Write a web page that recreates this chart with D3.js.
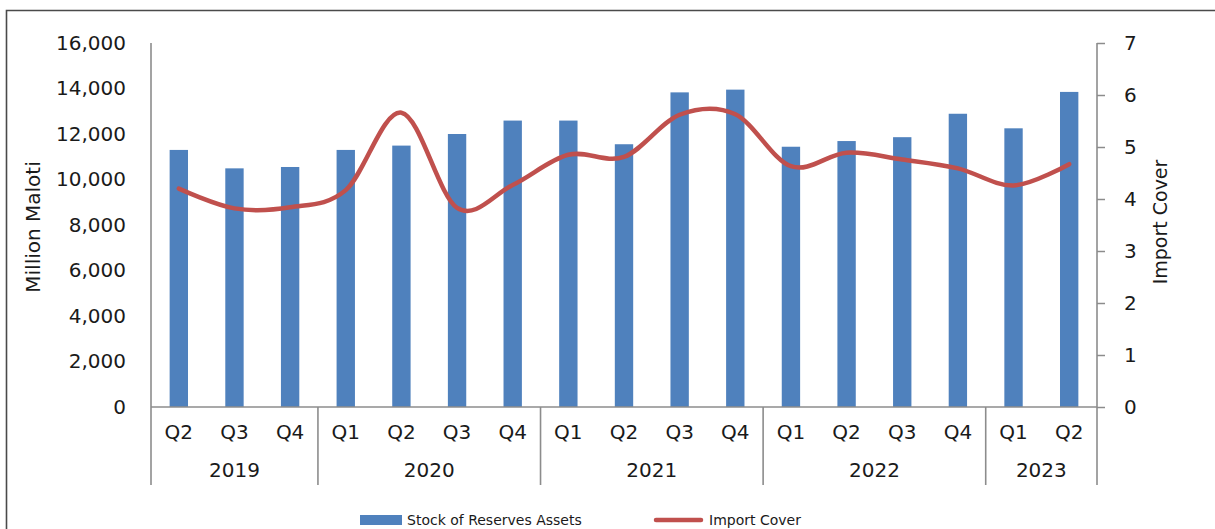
<!DOCTYPE html>
<html>
<head>
<meta charset="utf-8">
<script src="https://cdn.jsdelivr.net/npm/d3@7"></script>
<style>
  html, body { margin: 0; padding: 0; background: #fff; }
  svg { display: block; }
  text { font-family: "DejaVu Sans", sans-serif; fill: #1a1a1a; }
</style>
</head>
<body>
<svg id="chart" width="1215" height="529"></svg>
<script>
// ---- Data ----
const years = ["2019", "2020", "2021", "2022", "2023"];
const quarters = ["Q2","Q3","Q4","Q1","Q2","Q3","Q4","Q1","Q2","Q3","Q4","Q1","Q2","Q3","Q4","Q1","Q2"];
const quarterYears = ["2019","2019","2019","2020","2020","2020","2020","2021","2021","2021","2021","2022","2022","2022","2022","2023","2023"];
const reserves = [11300, 10490, 10550, 11300, 11490, 12000, 12590, 12590, 11550, 13830, 13950, 11440, 11690, 11860, 12890, 12250, 13850];
const importCover = [4.20, 3.82, 3.84, 4.17, 5.66, 3.83, 4.27, 4.85, 4.81, 5.62, 5.63, 4.63, 4.89, 4.76, 4.59, 4.26, 4.67];
const leftTicks = [0, 2000, 4000, 6000, 8000, 10000, 12000, 14000, 16000];
const rightTicks = [0, 1, 2, 3, 4, 5, 6, 7];
const seriesNames = ["Stock of Reserves Assets", "Import Cover"];

// ---- Layout ----
const W = 1215, H = 529;
const x0 = 151, x1 = 1097, yTop = 43, yBase = 407, yBottom = 485;
const barColor = "#4F81BD", lineColor = "#C0504D", axisColor = "#8c8c8c";

const svg = d3.select("#chart");
const keys = quarters.map((q, i) => i);

const x = d3.scaleBand().domain(keys).range([x0, x1]).padding(0);
const yL = d3.scaleLinear().domain([0, 16000]).range([yBase, yTop]);
const yR = d3.scaleLinear().domain([0, 7]).range([yBase, yTop]);

// outer border (top + left)
svg.append("path")
  .attr("d", `M6.5,${H} L6.5,10.5 L${W},10.5`)
  .attr("fill", "none").attr("stroke", "#4a4a4a").attr("stroke-width", 1.6);

// bars
const bw = x.bandwidth() * 0.33;
svg.append("g").selectAll("rect").data(keys).join("rect")
  .attr("x", i => x(i) + x.bandwidth() / 2 - bw / 2)
  .attr("y", i => yL(reserves[i]))
  .attr("width", bw)
  .attr("height", i => yBase - yL(reserves[i]))
  .attr("fill", barColor);

// left axis
const gL = svg.append("g").attr("transform", `translate(${x0},0)`)
  .call(d3.axisLeft(yL).tickValues(leftTicks).tickFormat(d3.format(",")).tickSize(0).tickPadding(25));
gL.select(".domain").remove();
gL.selectAll("text").style("font-size", "20px").attr("fill", "#1a1a1a");

// right axis
const gR = svg.append("g").attr("transform", `translate(${x1},0)`)
  .call(d3.axisRight(yR).tickValues(rightTicks).tickFormat(d3.format("d")).tickSize(8).tickSizeOuter(0).tickPadding(19));
gR.select(".domain").remove();
gR.selectAll("line").attr("stroke", axisColor).attr("stroke-width", 1.5);
gR.selectAll("text").style("font-size", "20px").attr("fill", "#1a1a1a");

// axis lines
const axes = svg.append("g").attr("stroke", axisColor).attr("stroke-width", 1.6).attr("fill", "none");
axes.append("line").attr("x1", x0).attr("x2", x0).attr("y1", yTop).attr("y2", yBottom);
axes.append("line").attr("x1", x1).attr("x2", x1).attr("y1", yTop).attr("y2", yBottom);
axes.append("line").attr("x1", x0).attr("x2", x1).attr("y1", yBase).attr("y2", yBase);

// group separators
const groupStarts = [];
quarterYears.forEach((yv, i) => { if (i > 0 && yv !== quarterYears[i - 1]) groupStarts.push(i); });
axes.selectAll("line.sep").data(groupStarts).join("line").attr("class", "sep")
  .attr("x1", i => x(i)).attr("x2", i => x(i))
  .attr("y1", yBase).attr("y2", yBottom);

// quarter labels
svg.append("g").selectAll("text").data(keys).join("text")
  .attr("x", i => x(i) + x.bandwidth() / 2)
  .attr("y", 432)
  .attr("text-anchor", "middle").attr("dominant-baseline", "central")
  .style("font-size", "20px")
  .text(i => quarters[i]);

// year labels
svg.append("g").selectAll("text").data(years).join("text")
  .attr("x", yv => {
    const idx = keys.filter(i => quarterYears[i] === yv);
    return (x(idx[0]) + x(idx[idx.length - 1]) + x.bandwidth()) / 2;
  })
  .attr("y", 470)
  .attr("text-anchor", "middle").attr("dominant-baseline", "central")
  .style("font-size", "20px")
  .text(d => d);

// line
const line = d3.line()
  .x(i => x(i) + x.bandwidth() / 2)
  .y(i => yR(importCover[i]))
  .curve(d3.curveCardinal.tension(0));
svg.append("path").datum(keys)
  .attr("d", line)
  .attr("fill", "none").attr("stroke", lineColor).attr("stroke-width", 4.5)
  .attr("stroke-linecap", "round").attr("stroke-linejoin", "round");

// axis titles
svg.append("text")
  .attr("transform", `translate(33,${(yTop + yBase) / 2 + 2}) rotate(-90)`)
  .attr("text-anchor", "middle").attr("dominant-baseline", "central")
  .style("font-size", "20px")
  .text("Million Maloti");
svg.append("text")
  .attr("transform", `translate(1160,${(yTop + yBase) / 2 - 3}) rotate(-90)`)
  .attr("text-anchor", "middle").attr("dominant-baseline", "central")
  .style("font-size", "19px")
  .text("Import Cover");

// legend
const lg = svg.append("g");
lg.append("rect").attr("x", 360).attr("y", 515).attr("width", 42).attr("height", 10).attr("fill", barColor);
lg.append("text").attr("x", 407).attr("y", 520).attr("dominant-baseline", "central")
  .style("font-size", "14px").text(seriesNames[0]);
lg.append("line").attr("x1", 656).attr("x2", 701).attr("y1", 520).attr("y2", 520)
  .attr("stroke", lineColor).attr("stroke-width", 4.5).attr("stroke-linecap", "round");
lg.append("text").attr("x", 709).attr("y", 520).attr("dominant-baseline", "central")
  .style("font-size", "14px").text(seriesNames[1]);
</script>
</body>
</html>
